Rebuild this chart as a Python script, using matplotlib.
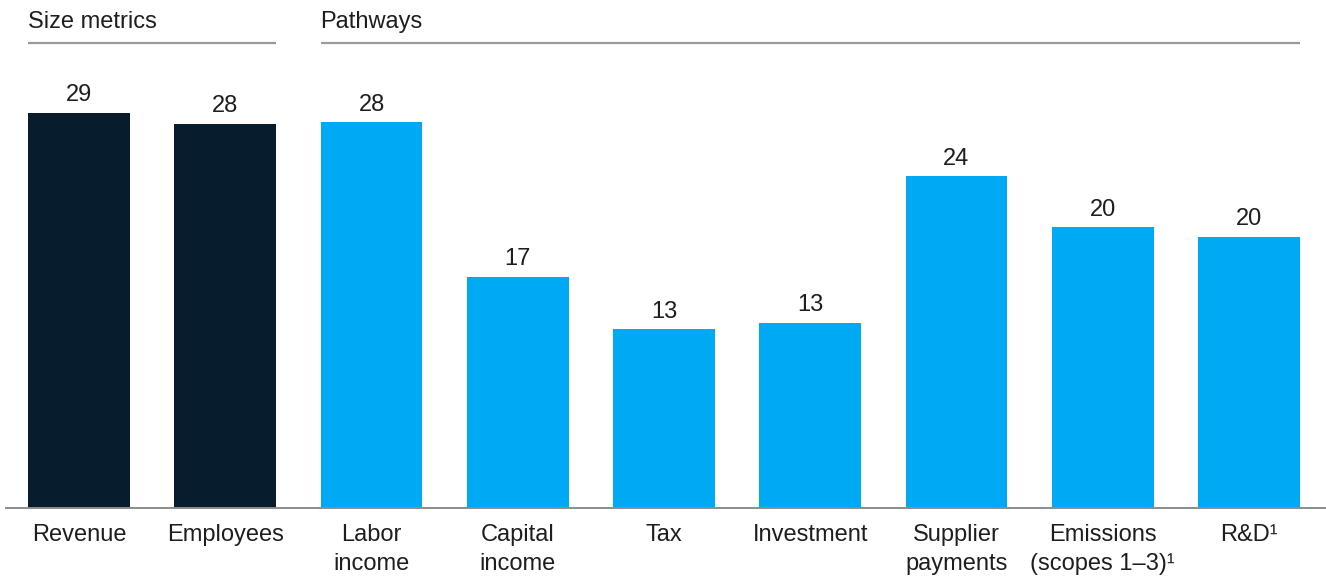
import matplotlib
matplotlib.use('Agg')
import matplotlib.pyplot as plt
import matplotlib.transforms as mtransforms

plt.rcParams['font.family'] = ['Liberation Sans', 'DejaVu Sans']

categories = ['Revenue', 'Employees', 'Labor\nincome', 'Capital\nincome', 'Tax',
              'Investment', 'Supplier\npayments', 'Emissions\n(scopes 1–3)¹', 'R&D¹']
values = [28.6, 27.8, 27.9, 16.7, 12.9, 13.4, 24.0, 20.3, 19.6]
groups = [('Size metrics', 0, 1), ('Pathways', 2, 8)]

NAVY = '#071d2d'
BLUE = '#00a9f4'
TEXT = '#1e1e1e'
RULE = '#9b9b9b'
colors = [NAVY, NAVY] + [BLUE] * 7
FS = 17

W, H = 1326, 578
fig = plt.figure(figsize=(W / 100, H / 100), dpi=100)

left_px, base_px, top_px = 6, 507.5, 60
ax = fig.add_axes([left_px / W, (H - base_px) / H, (W - left_px) / W, (base_px - top_px) / H])

step = 146.25
ax.set_xlim(-73 / step, (W - left_px - 73) / step)
ax.set_ylim(0, (base_px - top_px) / 13.8)

x = list(range(len(values)))
bars = ax.bar(x, values, width=0.697, color=colors, zorder=2)

for b, v in zip(bars, values):
    ax.annotate(f'{v:.0f}', (b.get_x() + b.get_width() / 2, v),
                xytext=(0, 8.4), textcoords='offset points',
                ha='center', va='baseline', fontsize=FS, color=TEXT)

for i, label in enumerate(categories):
    ax.annotate(label, (i, 0), xytext=(0, -12), textcoords='offset points',
                ha='center', va='top', fontsize=FS, color=TEXT,
                linespacing=1.4, annotation_clip=False)

# group headers with a grey rule under each
trans = mtransforms.blended_transform_factory(ax.transData, fig.transFigure)
half = 0.697 / 2
for name, start, end in groups:
    y_rule = 1 - 43.3 / H
    ax.plot([start - half, end + half], [y_rule, y_rule], transform=trans,
            color=RULE, lw=1.6, clip_on=False, solid_capstyle='butt')
    ax.text(start - half, 1 - 28.3 / H, name, transform=trans,
            ha='left', va='baseline', fontsize=FS, color=TEXT)

for side in ['top', 'right', 'left']:
    ax.spines[side].set_visible(False)
ax.spines['bottom'].set_color('#8c8c8c')
ax.spines['bottom'].set_linewidth(1.4)
ax.set_xticks([])
ax.set_yticks([])

fig.savefig('out.png', dpi=100)
